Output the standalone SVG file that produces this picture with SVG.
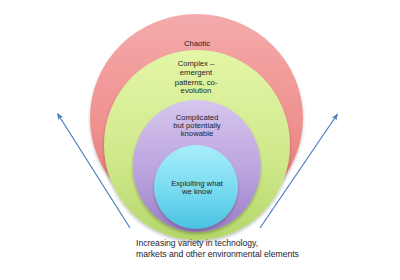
<svg xmlns="http://www.w3.org/2000/svg" width="400" height="280" viewBox="0 0 400 280">
  <defs>
    <linearGradient id="gRed" x1="0" y1="0" x2="0" y2="1">
      <stop offset="0" stop-color="#f4abab"/>
      <stop offset="0.6" stop-color="#ee8d8b"/>
      <stop offset="1" stop-color="#e06664"/>
    </linearGradient>
    <linearGradient id="gGreen" x1="0" y1="0" x2="0" y2="1">
      <stop offset="0" stop-color="#e3f6a6"/>
      <stop offset="0.6" stop-color="#cfe88a"/>
      <stop offset="1" stop-color="#b4d66a"/>
    </linearGradient>
    <linearGradient id="gPurple" x1="0" y1="0" x2="0" y2="1">
      <stop offset="0" stop-color="#d6c6ee"/>
      <stop offset="0.6" stop-color="#b7a0dc"/>
      <stop offset="1" stop-color="#9a7dc6"/>
    </linearGradient>
    <linearGradient id="gCyan" x1="0" y1="0" x2="0" y2="1">
      <stop offset="0" stop-color="#a9eefa"/>
      <stop offset="0.6" stop-color="#72d8ef"/>
      <stop offset="1" stop-color="#48c2e2"/>
    </linearGradient>
    <filter id="sh" x="-10%" y="-10%" width="120%" height="125%">
      <feDropShadow dx="0" dy="2" stdDeviation="1.5" flood-color="#000" flood-opacity="0.25"/>
    </filter>
    <marker id="arr" viewBox="0 0 10 10" refX="9" refY="5" markerWidth="7" markerHeight="7" orient="auto" markerUnits="userSpaceOnUse">
      <path d="M0,1 L10,5 L0,9 L2.5,5 Z" fill="#4a7ebb"/>
    </marker>
    <style>
      .t { font-family: "Liberation Sans", Arial, sans-serif; font-size: 7.7px; fill: #1c1d2c; text-anchor: middle; }
      .b { font-family: "Liberation Sans", Arial, sans-serif; font-size: 8.6px; fill: #1a1a33; }
      .c { fill: none; stroke: #4a7ebb; stroke-width: 1.2; }
    </style>
  </defs>

  <g id="connectors">
    <line class="c" x1="130" y1="228" x2="57.5" y2="113.5" marker-end="url(#arr)"/>
    <line class="c" x1="260" y1="228" x2="337.5" y2="114" marker-end="url(#arr)"/>
  </g>

  <g id="chaotic">
    <ellipse cx="196.5" cy="118" rx="106.5" ry="104" fill="url(#gRed)" filter="url(#sh)"/>
    <text class="t" x="197" y="46">Chaotic</text>
  </g>

  <g id="complex">
    <ellipse cx="197" cy="145" rx="93" ry="95" fill="url(#gGreen)" filter="url(#sh)"/>
    <text class="t" x="196" y="66">Complex –</text>
    <text class="t" x="196" y="75">emergent</text>
    <text class="t" x="196" y="84.5">patterns, co-</text>
    <text class="t" x="196" y="93">evolution</text>
  </g>

  <g id="complicated">
    <ellipse cx="196.7" cy="166" rx="64" ry="66" fill="url(#gPurple)" filter="url(#sh)"/>
    <text class="t" x="197" y="120">Complicated</text>
    <text class="t" x="197" y="128">but potentially</text>
    <text class="t" x="197" y="136">knowable</text>
  </g>

  <g id="exploiting">
    <ellipse cx="196" cy="187" rx="42" ry="42" fill="url(#gCyan)" filter="url(#sh)"/>
    <text class="t" x="197" y="185.5">Exploiting what</text>
    <text class="t" x="197" y="194">we know</text>
  </g>

  <g id="caption">
    <text class="b" x="136" y="246">Increasing variety in technology,</text>
    <text class="b" x="136" y="257">markets and other environmental elements</text>
  </g>
</svg>
